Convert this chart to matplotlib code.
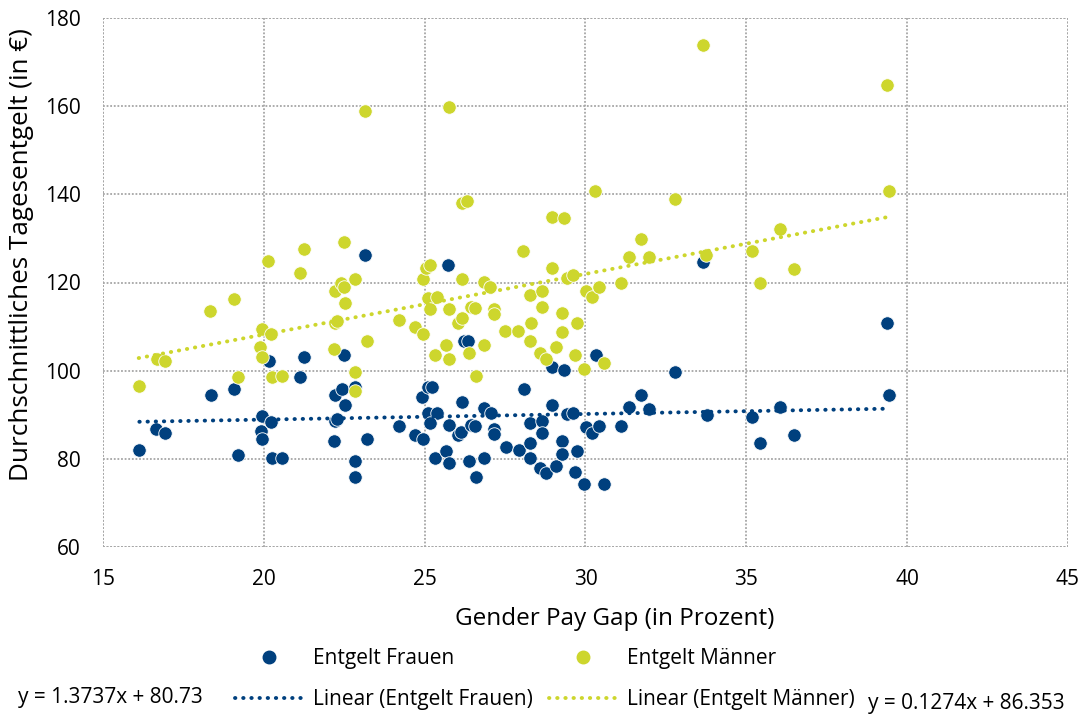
import numpy as np
import matplotlib
matplotlib.use("Agg")
import matplotlib.pyplot as plt
from matplotlib.lines import Line2D

plt.rcParams["font.family"] = ["Open Sans", "DejaVu Sans"]

colors = {
    "blue": "#00407E",
    "yellow": "#CDD62D",
    "grid": "#A6A6A6",
}

# Entgelt Frauen: gender pay gap (in Prozent) and average daily pay (in EUR)
frauen_gap = [
    16.13, 16.64, 16.93, 18.35, 19.07, 19.21, 19.94, 19.90, 19.95, 20.15,
    20.21, 20.26, 20.57, 21.11, 21.24, 22.17, 22.22, 22.22, 22.29, 22.43,
    22.48, 22.53, 22.84, 22.84, 22.84, 23.15, 23.22, 24.21, 24.70, 24.95,
    24.93, 25.11, 25.24, 25.11, 25.39, 25.18, 25.32, 25.67, 25.75, 25.75,
    25.73, 26.04, 26.14, 26.17, 26.21, 26.35, 26.37, 26.45, 26.55, 26.61,
    26.83, 26.84, 27.07, 27.15, 27.15, 27.54, 27.92, 28.10, 28.26, 28.28,
    28.28, 28.64, 28.64, 28.59, 28.77, 28.95, 28.95, 29.08, 29.27, 29.27,
    29.32, 29.44, 29.60, 29.68, 29.75, 29.94, 30.01, 30.19, 30.32, 30.42,
    30.56, 31.11, 31.35, 31.72, 31.97, 32.77, 33.65, 33.78, 35.17, 35.43,
    36.05, 36.48, 39.37, 39.43,
]
frauen_entgelt = [
    82.1, 86.7, 85.8, 94.4, 95.8, 80.8, 89.8, 86.4, 84.4, 102.1,
    88.4, 80.3, 80.3, 98.6, 103.0, 84.0, 94.5, 88.5, 89.1, 95.8,
    103.5, 92.1, 96.4, 79.5, 75.8, 126.2, 84.4, 87.5, 85.4, 84.4,
    94.0, 96.4, 96.3, 90.5, 90.5, 88.2, 80.3, 81.8, 87.7, 79.1,
    123.9, 85.4, 86.2, 92.8, 106.7, 106.7, 79.5, 87.7, 87.5, 75.9,
    91.5, 80.3, 90.5, 86.7, 85.6, 82.6, 82.1, 95.8, 83.5, 88.1,
    80.3, 88.6, 85.8, 78.0, 76.7, 100.8, 92.2, 78.4, 84.0, 81.2,
    100.2, 90.2, 90.5, 76.9, 81.8, 74.4, 87.2, 85.8, 103.5, 87.5,
    74.4, 87.5, 91.7, 94.5, 91.3, 99.8, 124.6, 90.0, 89.4, 83.5,
    91.7, 85.4, 110.7, 94.4,
]

# Entgelt Maenner
maenner_gap = [
    16.11, 16.68, 16.93, 18.33, 19.07, 19.20, 19.88, 19.95, 19.95, 20.12,
    20.21, 20.26, 20.57, 21.11, 21.24, 22.17, 22.22, 22.22, 22.27, 22.40,
    22.48, 22.48, 22.53, 22.84, 22.84, 22.84, 23.15, 23.22, 24.20, 24.70,
    24.95, 24.95, 25.04, 25.18, 25.11, 25.37, 25.18, 25.32, 25.67, 25.75,
    25.75, 25.75, 26.04, 26.17, 26.17, 26.17, 26.32, 26.37, 26.45, 26.55,
    26.61, 26.83, 26.84, 27.04, 27.15, 27.14, 27.51, 27.90, 28.05, 28.26,
    28.28, 28.31, 28.64, 28.57, 28.64, 28.77, 28.95, 28.96, 29.32, 29.08,
    29.27, 29.27, 29.42, 29.60, 29.68, 29.75, 29.94, 30.01, 30.19, 30.30,
    30.42, 30.56, 31.11, 31.35, 31.71, 31.97, 32.78, 33.64, 33.75, 35.17,
    35.43, 36.05, 36.48, 39.37, 39.43,
]
maenner_entgelt = [
    96.6, 102.7, 102.2, 113.5, 116.2, 98.6, 105.4, 109.5, 103.1, 124.9,
    108.4, 98.6, 98.9, 122.1, 127.6, 104.9, 118.1, 110.7, 111.2, 120.0,
    129.3, 118.9, 115.3, 120.8, 99.8, 95.3, 158.9, 106.7, 111.6, 110.0,
    108.4, 120.8, 123.4, 123.9, 116.4, 116.7, 113.9, 103.5, 105.8, 113.9,
    102.7, 159.8, 110.7, 112.0, 120.8, 138.0, 138.5, 104.0, 114.5, 114.3,
    98.9, 120.1, 105.8, 118.9, 113.9, 112.8, 109.0, 109.0, 127.2, 117.1,
    106.7, 110.7, 114.4, 104.0, 118.1, 102.7, 123.4, 134.8, 134.6, 105.3,
    113.0, 108.8, 121.1, 121.7, 103.5, 110.7, 100.4, 118.1, 116.7, 140.8,
    118.9, 101.8, 120.0, 125.7, 129.9, 125.7, 138.9, 173.8, 126.2, 127.2,
    119.8, 132.2, 123.0, 164.8, 140.8,
]

# Excel trendline coefficients (as printed under the chart)
maenner_slope, maenner_intercept = 1.3737, 80.73
frauen_slope, frauen_intercept = 0.1274, 86.353

x_ticks = [15, 20, 25, 30, 35, 40, 45]
y_ticks = [60, 80, 100, 120, 140, 160, 180]


fig = plt.figure(figsize=(10.86, 7.15), dpi=100)
ax = fig.add_axes([103 / 1086, 1 - 547 / 715, 965 / 1086, 529 / 715])

# Scatter points, women first so men sit on top
ax.scatter(frauen_gap, frauen_entgelt, s=94, color=colors["blue"],
           edgecolor="white", linewidth=0.6, zorder=3)
ax.scatter(maenner_gap, maenner_entgelt, s=94, color=colors["yellow"],
           edgecolor="white", linewidth=0.6, zorder=4)

# Linear trendlines over the data range
dot_style = (0, (0.1, 2.0))
fx = np.array([min(frauen_gap), max(frauen_gap)])
mx = np.array([min(maenner_gap), max(maenner_gap)])
ax.plot(fx, frauen_slope * fx + frauen_intercept, color=colors["blue"],
        linestyle=dot_style, linewidth=2.8, dash_capstyle="round", zorder=5)
ax.plot(mx, maenner_slope * mx + maenner_intercept, color=colors["yellow"],
        linestyle=dot_style, linewidth=2.8, dash_capstyle="round", zorder=5)

# Axes, ticks and dotted grid (the grid also forms the frame)
grid_kw = dict(color=colors["grid"], linestyle=(0, (1, 1)), linewidth=1.3, zorder=0)
ax.set_xlim(15, 45)
ax.set_ylim(60, 180)
ax.set_xticks(x_ticks)
ax.set_yticks(y_ticks)
ax.tick_params(length=0, labelsize=15, pad=16)
ax.grid(True, **grid_kw)
ax.set_axisbelow(True)
for spine in ax.spines.values():
    spine.set_visible(False)
ax.axvline(15, **grid_kw)
ax.axvline(45, **grid_kw)
ax.axhline(60, **grid_kw)
ax.axhline(180, **grid_kw)

ax.set_xlabel("Gender Pay Gap (in Prozent)", fontsize=17.5)
ax.set_ylabel("Durchschnittliches Tagesentgelt (in €)", fontsize=18.8)
ax.xaxis.set_label_coords(0.53, -0.114)
ax.yaxis.set_label_coords(-0.072, 0.553)

# Legend: markers on the first row, trendlines on the second
handles = [
    Line2D([], [], marker="o", linestyle="none", color=colors["blue"], markersize=9),
    Line2D([], [], color=colors["blue"], linestyle=dot_style, linewidth=2.8,
           dash_capstyle="round"),
    Line2D([], [], marker="o", linestyle="none", color=colors["yellow"], markersize=9),
    Line2D([], [], color=colors["yellow"], linestyle=dot_style, linewidth=2.8,
           dash_capstyle="round"),
]
labels = ["Entgelt Frauen", "Linear (Entgelt Frauen)",
          "Entgelt Männer", "Linear (Entgelt Männer)"]
fig.legend(handles, labels, ncol=2, loc="upper left",
           bbox_to_anchor=(235 / 1086, 1 - 648 / 715), frameon=False,
           fontsize=15, borderpad=0, borderaxespad=0, handlelength=3.3,
           handletextpad=0.45, columnspacing=0.75, labelspacing=0.95)

fig.text(18 / 1086, 1 - 698 / 715, "y = 1.3737x + 80.73", fontsize=15,
         ha="left", va="center")
fig.text(868 / 1086, 1 - 703 / 715, "y = 0.1274x + 86.353", fontsize=15,
         ha="left", va="center")

fig.savefig("out.png", dpi=100)
